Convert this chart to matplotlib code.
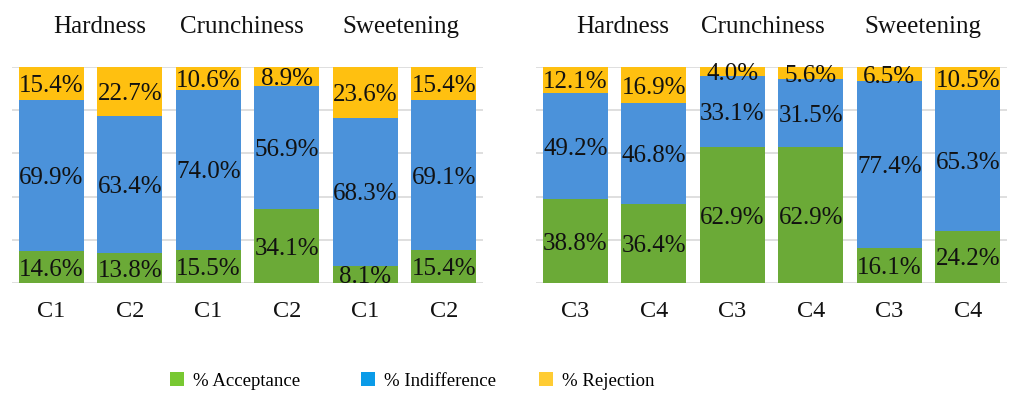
import matplotlib
matplotlib.use("Agg")
import matplotlib.pyplot as plt
from matplotlib.patches import Patch
import numpy as np

plt.rcParams['font.family'] = ['Liberation Serif', 'DejaVu Serif']

# Sensory attributes shown above each pair of bars
attributes = ["Hardness", "Crunchiness", "Sweetening"]

# Left panel: samples C1 / C2
left_ticks = ["C1", "C2", "C1", "C2", "C1", "C2"]
left_accept = [14.6, 13.8, 15.5, 34.1, 8.1, 15.4]
left_indiff = [69.9, 63.4, 74.0, 56.9, 68.3, 69.1]
left_reject = [15.4, 22.7, 10.6, 8.9, 23.6, 15.4]

# Right panel: samples C3 / C4
right_ticks = ["C3", "C4", "C3", "C4", "C3", "C4"]
right_accept = [38.8, 36.4, 62.9, 62.9, 16.1, 24.2]
right_indiff = [49.2, 46.8, 33.1, 31.5, 77.4, 65.3]
right_reject = [12.1, 16.9, 4.0, 5.6, 6.5, 10.5]

series_names = ["% Acceptance", "% Indifference", "% Rejection"]

bar_colors = ["#6BAA37", "#4B92DA", "#FFC010"]
legend_colors = ["#78C832", "#0A9BE8", "#FFCC33"]

W, H = 1013, 394
fig = plt.figure(figsize=(W / 100, H / 100), dpi=100)

ax_w = 471 / W
ax_h = 216 / H
ax_b = 1 - 283 / H
axL = fig.add_axes([12 / W, ax_b, ax_w, ax_h])
axR = fig.add_axes([536 / W, ax_b, ax_w, ax_h])

title_x = {
    "L": [0.62, 2.43, 4.455],
    "R": [0.60, 2.39, 4.43],
}


def draw_panel(ax, ticks, acc, ind, rej, tpos):
    x = np.arange(len(ticks))
    acc = np.array(acc)
    ind = np.array(ind)
    rej = np.array(rej)
    bottoms = [np.zeros(len(x)), acc, acc + ind]
    for vals, bot, col in zip([acc, ind, rej], bottoms, bar_colors):
        ax.bar(x, vals, bottom=bot, width=0.83, color=col,
               zorder=2, clip_on=False)
        for xi, v, b in zip(x, vals, bot):
            ax.text(xi, b + v / 2, f"{v:.1f}%", ha="center",
                    va="center_baseline", fontsize=18, color="#111111",
                    zorder=3)
    ax.set_xlim(-0.5, len(x) - 0.5)
    ax.set_ylim(0, 100)
    ax.set_yticks(np.arange(0, 101, 20))
    ax.yaxis.grid(True, color="#D9D9D9", linewidth=1.2, zorder=0)
    ax.set_axisbelow(True)
    ax.set_yticklabels([])
    ax.tick_params(axis="y", length=0)
    ax.set_xticks(x)
    ax.set_xticklabels(ticks, fontsize=17.5, color="#111111")
    ax.tick_params(axis="x", length=0, pad=13)
    for s in ax.spines.values():
        s.set_visible(False)
    for name, tx in zip(attributes, tpos):
        ax.text(tx, 1 + 40 / 216, name, transform=ax.get_xaxis_transform(),
                ha="center", va="center", fontsize=18, color="#111111")


draw_panel(axL, left_ticks, left_accept, left_indiff, left_reject, title_x["L"])
draw_panel(axR, right_ticks, right_accept, right_indiff, right_reject, title_x["R"])

# Legend entries placed in three fixed columns
legend_x = [170, 361, 539]
for name, col, lx in zip(series_names, legend_colors, legend_x):
    fig.legend(handles=[Patch(facecolor=col, edgecolor="none", label=name)],
               loc="center left", bbox_to_anchor=(lx / W, 1 - 381 / H),
               frameon=False, fontsize=13.5, handlelength=0.75,
               handleheight=0.75, handletextpad=0.45, borderpad=0,
               borderaxespad=0)

fig.savefig("out.png", dpi=100)
